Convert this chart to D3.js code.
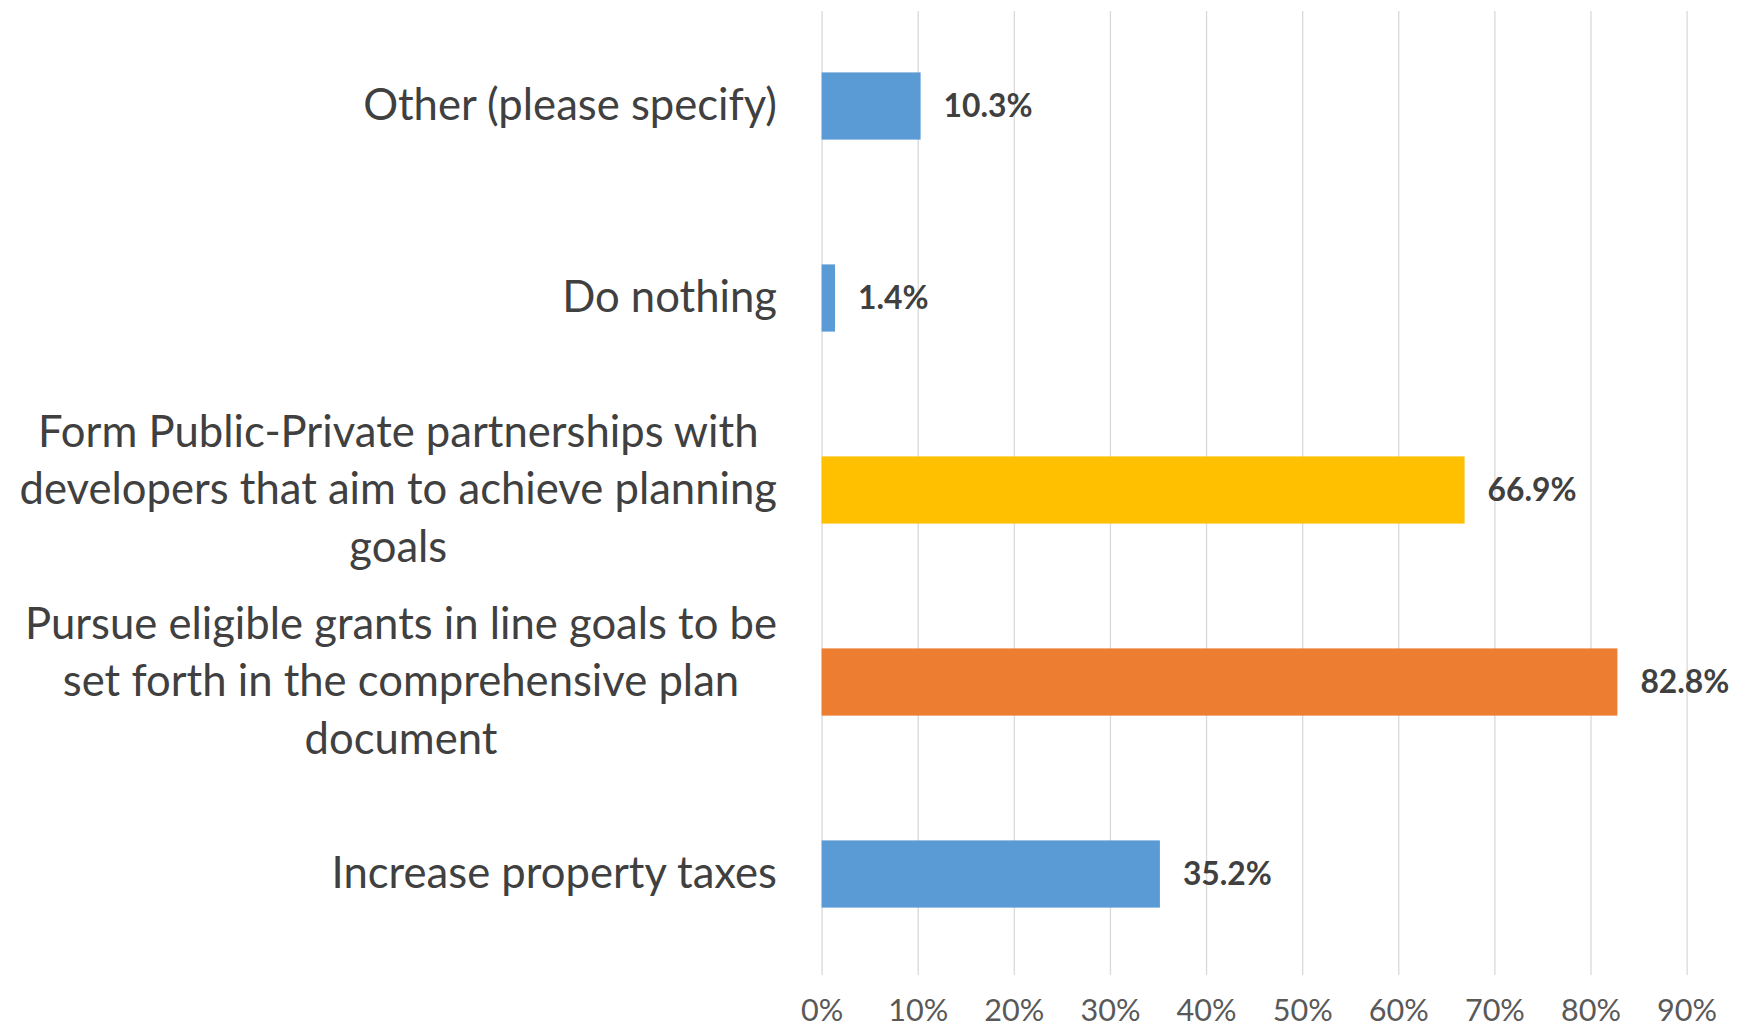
<!DOCTYPE html>
<html>
<head>
<meta charset="utf-8">
<script src="https://cdn.jsdelivr.net/npm/d3@7"></script>
<style>
  body { margin: 0; background: #fff; }
  svg { display: block; }
</style>
</head>
<body>
<div id="chart"></div>
<script>
// chart data
const categories = ["Other (please specify)", "Do nothing",
    "Form Public-Private partnerships with developers that aim to achieve planning goals",
    "Pursue eligible grants in line goals to be set forth in the comprehensive plan document",
    "Increase property taxes"];
const labelLines = [
    ["Other (please specify)"],
    ["Do nothing"],
    ["Form Public-Private partnerships with", "developers that aim to achieve planning", "goals"],
    ["Pursue eligible grants in line goals to be", "set forth in the comprehensive plan", "document"],
    ["Increase property taxes"]
];
const values = [10.3, 1.4, 66.9, 82.8, 35.2];
const barColors = ["#5B9BD5", "#5B9BD5", "#FFC000", "#ED7D31", "#5B9BD5"];
const tickValues = [0, 10, 20, 30, 40, 50, 60, 70, 80, 90];

const W = 1741, H = 1029;
const fontFam = "Lato, 'Open Sans', sans-serif";

const svg = d3.select("#chart").append("svg").attr("width", W).attr("height", H);

//find a font size so a sample string gets a given width
function fitSize(str, target, weight) {
    let t = svg.append("text").attr("font-family", fontFam).attr("font-size", 100)
        .attr("font-weight", weight).text(str);
    let w = t.node().getComputedTextLength();
    t.remove();
    return 100 * target / w;
}
const catSize = fitSize("Other (please specify)", 414, "normal");
const tickSize = fitSize("90%", 60, "normal");
const valSize = fitSize("10.3%", 89, "bold");

const x = d3.scaleLinear().domain([0, 90]).range([821.6, 1686.6]);
const y = d3.scaleBand().domain(categories).range([10, 970]).paddingInner(0.65).paddingOuter(0.325);

//gridlines
svg.append("g")
    .attr("transform", "translate(0,975)")
    .call(d3.axisBottom(x).tickValues(tickValues).tickSize(-964).tickFormat(""))
    .call(g => g.select(".domain").remove())
    .call(g => g.selectAll("line").attr("stroke", "#d9d9d9").attr("stroke-width", 1.3));

//tick labels
svg.append("g")
    .attr("transform", "translate(0,996)")
    .call(d3.axisBottom(x).tickValues(tickValues).tickSize(0).tickFormat(d => d + "%"))
    .call(g => g.select(".domain").remove())
    .call(g => g.selectAll("text")
        .attr("font-family", fontFam).attr("font-size", tickSize)
        .attr("fill", "#595959").attr("dy", "0.71em"));

//bars
svg.selectAll(".bar").data(categories).enter().append("rect")
    .attr("class", "bar")
    .attr("x", x(0))
    .attr("y", d => y(d))
    .attr("width", (d, i) => x(values[i]) - x(0))
    .attr("height", y.bandwidth())
    .attr("fill", (d, i) => barColors[i]);

//value labels
svg.selectAll(".val").data(categories).enter().append("text")
    .attr("class", "val")
    .attr("x", (d, i) => x(values[i]) + 23)
    .attr("y", d => y(d) + y.bandwidth() / 2)
    .attr("dy", "0.36em")
    .attr("font-family", fontFam).attr("font-size", valSize).attr("font-weight", "bold")
    .attr("fill", "#404040")
    .text((d, i) => values[i].toFixed(1) + "%");

//category labels, each block centered on its widest line and right aligned
const lineH = 57.7;
const rightEdge = 777;
categories.forEach(function(c, i) {
    let lines = labelLines[i];
    let g = svg.append("g");
    let cy = y(c) + y.bandwidth() / 2;
    let txt = g.append("text")
        .attr("font-family", fontFam).attr("font-size", catSize)
        .attr("fill", "#404040").attr("text-anchor", "middle");
    lines.forEach(function(l, j) {
        txt.append("tspan")
            .attr("x", 0)
            .attr("y", cy + (j - (lines.length - 1) / 2) * lineH)
            .attr("dy", "0.33em")
            .text(l);
    });
    let maxW = d3.max(txt.selectAll("tspan").nodes(), n => n.getComputedTextLength());
    txt.selectAll("tspan").attr("x", rightEdge - maxW / 2);
});
</script>
</body>
</html>
